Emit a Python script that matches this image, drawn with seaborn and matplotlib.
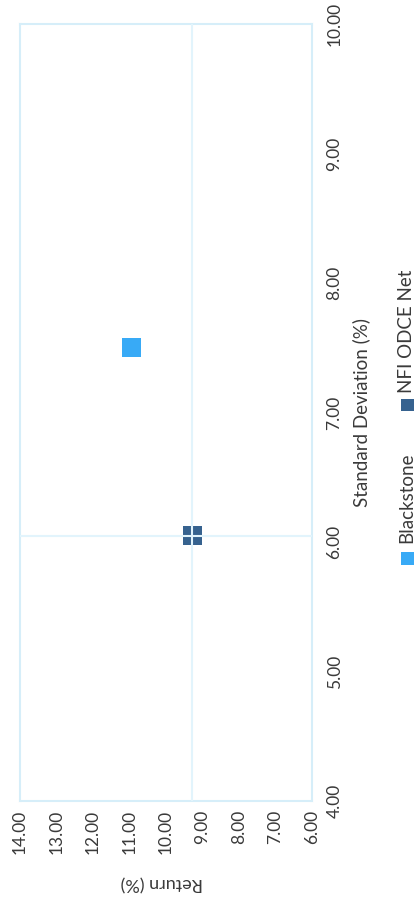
import matplotlib
matplotlib.use("Agg")
import matplotlib.pyplot as plt
import seaborn as sns
import pandas as pd
from matplotlib.patches import Rectangle

# ---- data ----
series = ["Blackstone", "NFI ODCE Net"]
returns = [10.95, 9.28]       # Return (%)
std_devs = [7.50, 6.05]       # Standard Deviation (%)
return_ticks = [6, 7, 8, 9, 10, 11, 12, 13, 14]
std_ticks = [4, 5, 6, 7, 8, 9, 10]
colors = ["#38aaf6", "#36628f"]

df = pd.DataFrame({"series": series, "ret": returns, "std": std_devs})

sns.set_theme(style="white")
plt.rcParams["font.family"] = ["Lato", "DejaVu Sans"]
text_color = "#3a3a3a"
frame_color = "#d6eef9"

fig = plt.figure(figsize=(4.17, 9.01), dpi=100)
ax = fig.add_axes([20 / 417, 1 - 801 / 901, 292 / 417, 777 / 901])

sns.scatterplot(data=df, x="ret", y="std", hue="series", palette=colors,
                marker="s", s=190, linewidth=0, legend=False, ax=ax, zorder=3)

# reference cross-hair at NFI ODCE values
ax.axvline(returns[1], color="#e2f4fc", lw=1.5, zorder=4)
ax.axhline(std_devs[1], color="#e2f4fc", lw=1.5, zorder=4)

ax.set_xlim(14, 6)
ax.set_ylim(4, 10)
ax.set_xticks(return_ticks)
ax.set_xticklabels([f"{v:.2f}" for v in return_ticks], rotation=90, va="top",
                   ha="center", fontsize=12.5, color=text_color)
ax.yaxis.tick_right()
ax.set_yticks(std_ticks)
ax.set_yticklabels([f"{v:.2f}" for v in std_ticks], rotation=90, va="center",
                   ha="left", fontsize=12.5, color=text_color)
ax.tick_params(axis="x", length=0, pad=6.5)
ax.tick_params(axis="y", length=0, pad=10.5)
ax.set_xlabel("")
ax.set_ylabel("")
ax.grid(False)
for sp in ax.spines.values():
    sp.set_visible(True)
    sp.set_color(frame_color)
    sp.set_linewidth(1.5)

# axis titles (chart is shown rotated)
fig.text(162 / 417, 1 - 883 / 901, "Return (%)", rotation=180, ha="center",
         va="center", fontsize=13, color=text_color)
fig.text(361 / 417, 1 - 413 / 901, "Standard Deviation (%)", rotation=90,
         ha="center", va="center", fontsize=13.5, color=text_color)

# legend (rotated)
leg_items = [(series[0], colors[0], 558, 543), (series[1], colors[1], 405, 393)]
for name, col, sq_y, txt_y in leg_items:
    size = 13
    fig.patches.append(Rectangle(((407 - size / 2) / 417, 1 - (sq_y + size / 2) / 901),
                                 size / 417, size / 901, transform=fig.transFigure,
                                 facecolor=col, edgecolor="none"))
    fig.text(407 / 417, 1 - txt_y / 901, name, rotation=90, ha="center",
             va="bottom", fontsize=13.5, color=text_color)

fig.savefig("out.png", dpi=100)
